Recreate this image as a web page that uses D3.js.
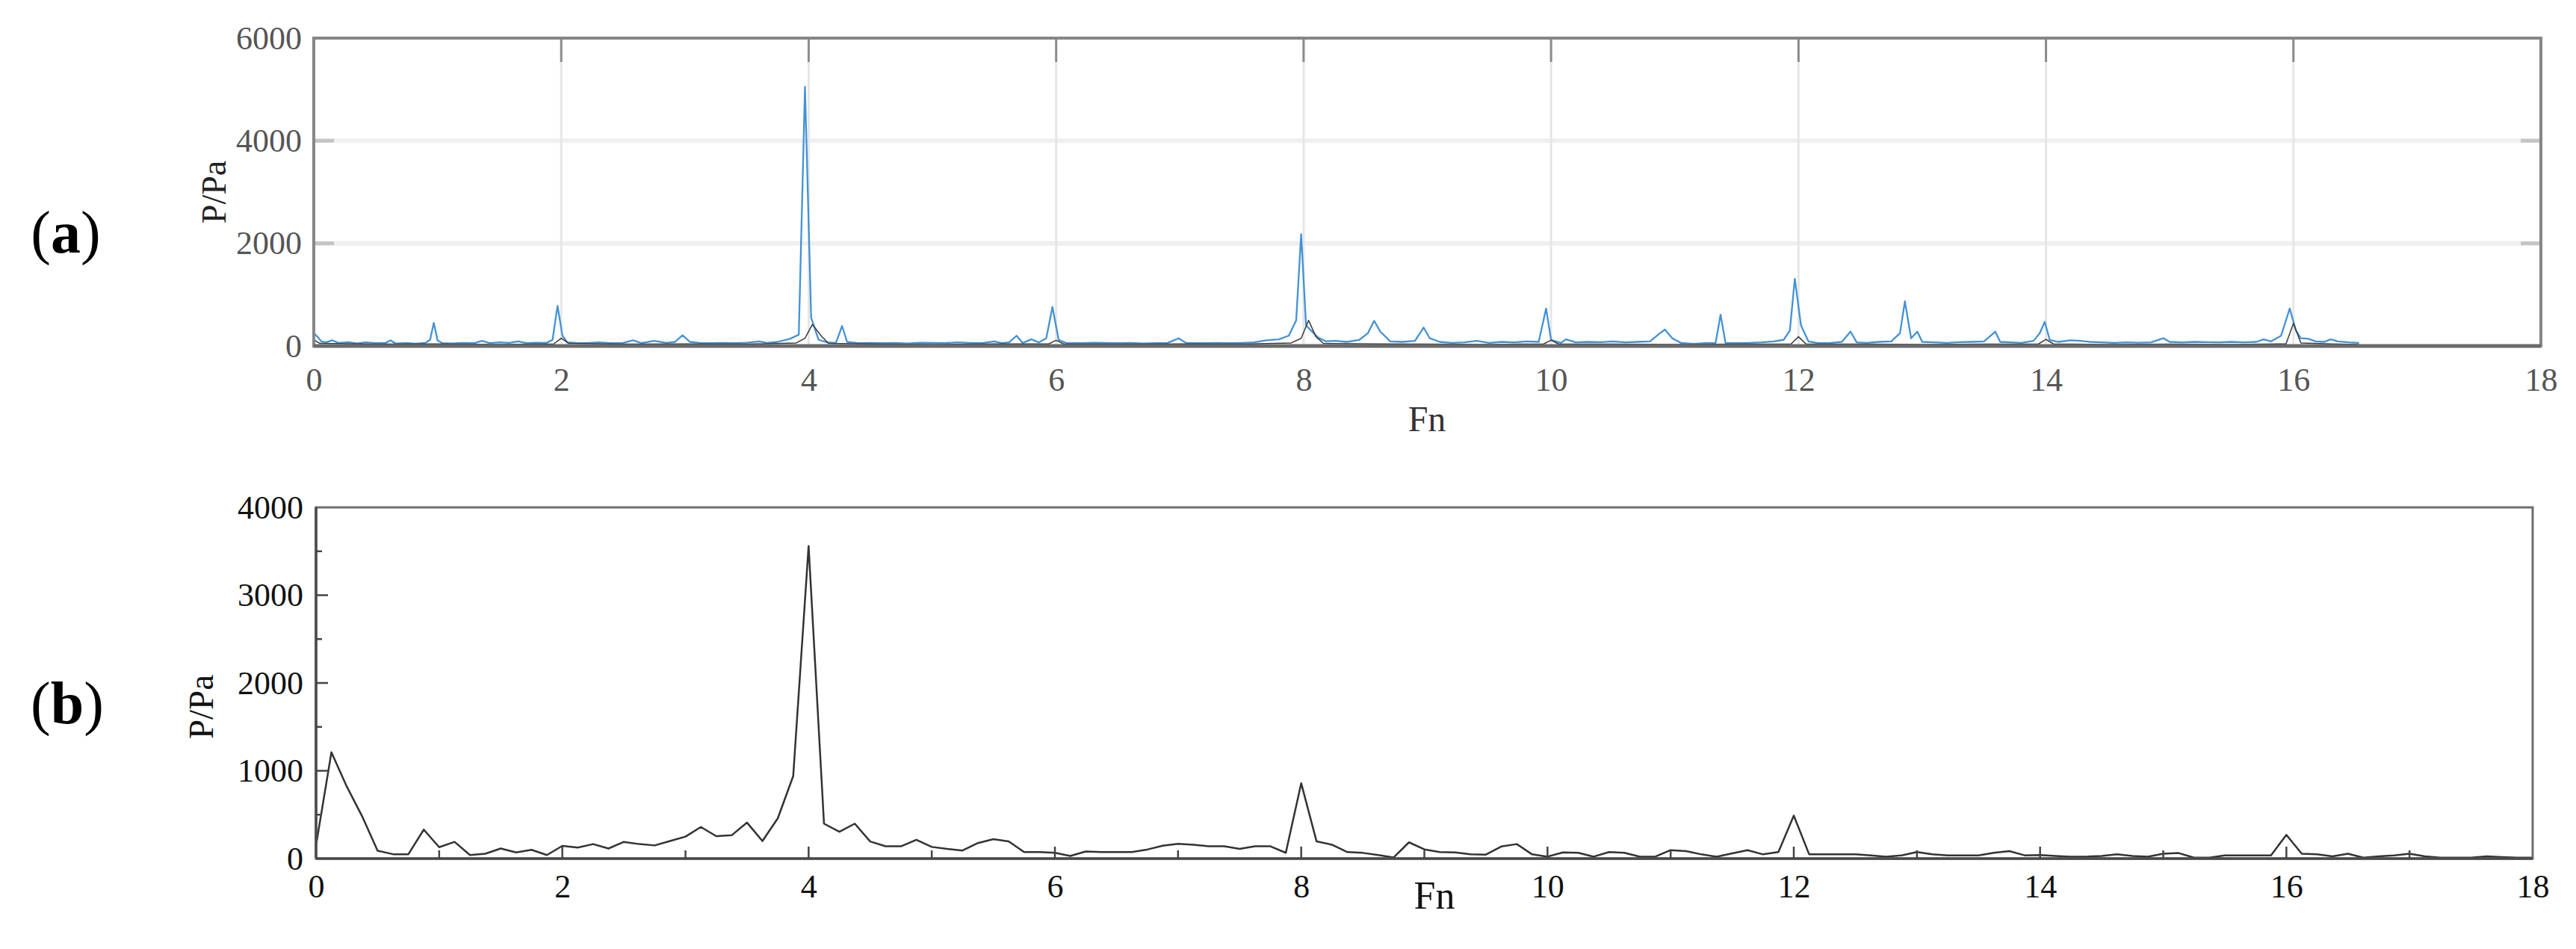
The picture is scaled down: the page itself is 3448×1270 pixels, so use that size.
<!DOCTYPE html>
<html><head><meta charset="utf-8">
<script src="https://cdn.jsdelivr.net/npm/d3@7"></script>
<style>html,body{margin:0;padding:0;background:#fff;} svg{display:block;}</style>
</head><body>
<svg id="chart" width="3448" height="1270"></svg>
<script>
// ---------- data ----------
const xTicks = [0, 2, 4, 6, 8, 10, 12, 14, 16, 18];
const xMinorB = [1, 3, 5, 7, 9, 11, 13, 15, 17];
const yTicksA = [0, 2000, 4000, 6000];
const yTicksB = [0, 1000, 2000, 3000, 4000];
const yMinorB = [500, 1500, 2500, 3500];

// panel (a): fine spectrum (blue) [Fn, P]
const blueA = [
[0.00,250],[0.03,180],[0.06,90],[0.10,70],[0.15,110],[0.20,60],[0.28,75],[0.35,50],[0.42,70],[0.50,55],
[0.58,60],[0.62,110],[0.66,50],[0.75,55],[0.82,45],[0.90,60],[0.94,120],[0.97,450],[1.00,110],[1.04,55],
[1.12,50],[1.20,60],[1.30,55],[1.36,100],[1.42,55],[1.50,70],[1.58,60],[1.65,90],[1.72,55],[1.80,65],
[1.88,60],[1.93,120],[1.97,780],[2.01,200],[2.05,70],[2.12,60],[2.20,55],[2.30,70],[2.40,55],[2.50,60],
[2.58,110],[2.65,55],[2.75,100],[2.85,60],[2.92,80],[2.98,210],[3.04,80],[3.12,60],[3.20,55],[3.30,60],
[3.40,55],[3.50,65],[3.60,90],[3.66,60],[3.75,80],[3.85,140],[3.92,220],[3.97,5050],[4.02,550],[4.08,120],
[4.15,70],[4.22,60],[4.27,390],[4.31,80],[4.40,55],[4.50,60],[4.60,55],[4.70,60],[4.80,50],[4.90,65],
[5.00,60],[5.10,55],[5.20,70],[5.30,60],[5.40,55],[5.50,90],[5.56,55],[5.62,70],[5.68,200],[5.73,60],
[5.80,130],[5.86,70],[5.92,150],[5.97,760],[6.02,120],[6.08,60],[6.20,55],[6.30,65],[6.40,60],[6.50,55],
[6.60,60],[6.70,50],[6.80,55],[6.90,60],[6.99,150],[7.05,60],[7.20,55],[7.30,60],[7.40,55],[7.50,60],
[7.60,70],[7.70,110],[7.80,130],[7.88,200],[7.94,500],[7.98,2180],[8.02,400],[8.06,300],[8.12,160],[8.18,90],
[8.25,100],[8.35,80],[8.45,120],[8.52,250],[8.57,490],[8.62,280],[8.70,90],[8.80,80],[8.90,100],[8.97,360],
[9.02,150],[9.10,80],[9.20,60],[9.30,70],[9.40,100],[9.50,60],[9.60,80],[9.70,70],[9.80,90],[9.90,80],
[9.96,730],[10.00,120],[10.08,60],[10.12,130],[10.20,70],[10.30,80],[10.40,75],[10.50,90],[10.60,70],[10.70,80],
[10.80,90],[10.88,250],[10.92,320],[10.98,150],[11.05,60],[11.15,40],[11.25,55],[11.33,60],[11.37,610],[11.41,60],
[11.50,55],[11.60,60],[11.70,70],[11.80,90],[11.88,120],[11.93,300],[11.97,1310],[12.02,400],[12.08,90],[12.15,60],
[12.25,55],[12.35,80],[12.42,280],[12.47,70],[12.55,60],[12.65,80],[12.75,90],[12.82,250],[12.86,870],[12.91,150],
[12.96,280],[13.00,80],[13.10,70],[13.20,60],[13.30,75],[13.40,80],[13.50,90],[13.59,280],[13.63,80],[13.72,70],
[13.80,60],[13.90,100],[13.95,250],[13.99,470],[14.03,120],[14.10,80],[14.20,110],[14.28,100],[14.35,80],[14.45,70],
[14.55,60],[14.65,70],[14.75,65],[14.85,70],[14.95,150],[15.00,80],[15.10,70],[15.20,80],[15.30,75],[15.40,70],
[15.50,80],[15.60,70],[15.70,80],[15.76,130],[15.82,90],[15.90,200],[15.97,730],[16.02,300],[16.06,150],[16.12,140],
[16.18,90],[16.25,80],[16.30,130],[16.36,90],[16.45,70],[16.53,60]
];

// panel (a): second spectrum (dark) [Fn, P]
const darkA = [
[0.00,120],[0.05,50],[0.50,35],[1.00,40],[1.50,30],[1.94,40],[2.00,150],[2.06,50],[2.50,35],[3.00,40],
[3.50,35],[3.90,60],[3.97,150],[4.03,420],[4.10,200],[4.16,50],[4.60,35],[5.00,30],[5.50,40],[5.94,40],
[6.00,110],[6.06,40],[6.50,35],[7.00,40],[7.50,35],[7.90,60],[7.98,150],[8.04,500],[8.10,180],[8.16,50],
[8.60,40],[9.00,35],[9.50,30],[9.94,40],[10.00,110],[10.06,40],[10.50,35],[11.00,30],[11.50,35],[11.94,40],
[12.00,180],[12.06,40],[12.50,35],[13.00,30],[13.50,35],[13.94,40],[14.00,130],[14.06,40],[14.50,30],[15.00,35],
[15.50,30],[15.94,40],[16.00,440],[16.06,60],[16.30,40],[16.53,30]
];

// panel (b): coarse spectrum [Fn, P]
const lineB = [
[0,150],[0.125,1210],[0.25,820],[0.375,480],[0.5,90],[0.625,50],[0.75,50],[0.875,330],[1,130],[1.125,190],
[1.25,40],[1.375,55],[1.5,115],[1.625,70],[1.75,100],[1.875,40],[2,145],[2.125,125],[2.25,165],[2.375,115],
[2.5,190],[2.625,165],[2.75,150],[2.875,200],[3,250],[3.125,360],[3.25,255],[3.375,265],[3.5,410],[3.625,200],
[3.75,460],[3.875,940],[4,3560],[4.125,398],[4.25,306],[4.375,398],[4.5,195],[4.625,140],[4.75,140],[4.875,214],
[5,133],[5.125,110],[5.25,92],[5.375,177],[5.5,221],[5.625,195],[5.75,74],[5.875,74],[6,66],[6.125,30],
[6.25,81],[6.375,74],[6.5,74],[6.625,74],[6.75,103],[6.875,147],[7,169],[7.125,158],[7.25,140],[7.375,140],
[7.5,110],[7.625,140],[7.75,140],[7.875,66],[8,858],[8.125,195],[8.25,158],[8.375,74],[8.5,65],[8.625,40],
[8.75,12],[8.875,185],[9,105],[9.125,74],[9.25,70],[9.375,48],[9.5,45],[9.625,138],[9.75,165],[9.875,48],
[10,22],[10.125,70],[10.25,66],[10.375,22],[10.5,74],[10.625,66],[10.75,22],[10.875,22],[11,96],[11.125,85],
[11.25,48],[11.375,22],[11.5,59],[11.625,96],[11.75,48],[11.875,74],[12,490],[12.125,48],[12.25,48],[12.375,48],
[12.5,48],[12.625,37],[12.75,22],[12.875,37],[13,74],[13.125,48],[13.25,37],[13.375,37],[13.5,37],[13.625,66],
[13.75,85],[13.875,37],[14,40],[14.125,30],[14.25,22],[14.375,22],[14.5,30],[14.625,48],[14.75,30],[14.875,22],
[15,55],[15.125,63],[15.25,11],[15.375,11],[15.5,37],[15.625,37],[15.75,37],[15.875,37],[16,270],[16.125,55],
[16.25,48],[16.375,26],[16.5,55],[16.625,11],[16.75,26],[16.875,37],[17,55],[17.125,26],[17.25,11],[17.375,11],
[17.5,11],[17.625,26],[17.75,18],[17.875,11],[18,11]
];

// ---------- drawing ----------
const svg = d3.select("#chart");
const FONT = "'Liberation Serif','Times New Roman',serif";

// Panel A scales
const xA = d3.scaleLinear().domain([0, 18]).range([420, 3401]);
const yA = d3.scaleLinear().domain([0, 6000]).range([463, 51]);
// Panel B scales
const xB = d3.scaleLinear().domain([0, 18]).range([423, 3390]);
const yB = d3.scaleLinear().domain([0, 4000]).range([1149, 679]);

// ===== Panel A =====
const gA = svg.append("g");
gA.selectAll("line.hgrid").data([2000, 4000]).enter().append("line")
  .attr("x1", xA(0)).attr("x2", xA(18)).attr("y1", d => yA(d)).attr("y2", d => yA(d))
  .attr("stroke", "#efefef").attr("stroke-width", 6);
gA.selectAll("line.vgrid").data(xTicks.slice(1, -1)).enter().append("line")
  .attr("x1", d => xA(d)).attr("x2", d => xA(d)).attr("y1", yA(6000)).attr("y2", yA(0))
  .attr("stroke", "#e6e6e6").attr("stroke-width", 3);
gA.selectAll("line.ttick").data(xTicks.slice(1, -1)).enter().append("line")
  .attr("x1", d => xA(d)).attr("x2", d => xA(d)).attr("y1", yA(6000)).attr("y2", yA(6000) + 32)
  .attr("stroke", "#8c8c8c").attr("stroke-width", 3);
[[0, 1], [18, -1]].forEach(([xv, dir]) => {
  gA.selectAll(null).data([2000, 4000]).enter().append("line")
    .attr("x1", xA(xv)).attr("x2", xA(xv) + dir * 27).attr("y1", d => yA(d)).attr("y2", d => yA(d))
    .attr("stroke", "#c4c4c4").attr("stroke-width", 5);
});
const lineGenA = d3.line().x(d => xA(d[0])).y(d => yA(d[1]));
gA.append("path").datum(blueA).attr("d", lineGenA)
  .attr("fill", "none").attr("stroke", "#4392d6").attr("stroke-width", 2.3).attr("stroke-linejoin", "round");
gA.append("path").datum(darkA).attr("d", lineGenA)
  .attr("fill", "none").attr("stroke", "#3a3a3a").attr("stroke-width", 1.5).attr("stroke-linejoin", "round");
gA.append("rect").attr("x", xA(0)).attr("y", yA(6000)).attr("width", xA(18) - xA(0)).attr("height", yA(0) - yA(6000))
  .attr("fill", "none").attr("stroke", "#868686").attr("stroke-width", 4);
gA.append("line").attr("x1", xA(0)).attr("x2", xA(18)).attr("y1", yA(0)).attr("y2", yA(0))
  .attr("stroke", "#6a6a6a").attr("stroke-width", 5);
const axYA = gA.append("g").attr("transform", `translate(${xA(0)},0)`)
  .call(d3.axisLeft(yA).tickValues(yTicksA).tickFormat(d3.format("d")).tickSize(0).tickPadding(16));
const axXA = gA.append("g").attr("transform", `translate(0,${yA(0)})`)
  .call(d3.axisBottom(xA).tickValues(xTicks).tickFormat(d3.format("d")).tickSize(0).tickPadding(0));
[axYA, axXA].forEach(a => {
  a.select(".domain").remove();
  a.selectAll("text").attr("font-family", FONT).attr("font-size", 44).attr("fill", "#555");
});
axXA.selectAll("text").attr("y", 45).attr("dy", "0.35em");
gA.append("text").attr("x", 1910).attr("y", 560).attr("dy", "0.35em").attr("text-anchor", "middle")
  .attr("font-family", FONT).attr("font-size", 48).attr("fill", "#333").text("Fn");
gA.append("text").attr("transform", "translate(286,257) rotate(-90)").attr("dy", "0.35em").attr("text-anchor", "middle")
  .attr("font-family", FONT).attr("font-size", 46).attr("fill", "#222").text("P/Pa");

// ===== Panel B =====
const gB = svg.append("g");
const lineGenB = d3.line().x(d => xB(d[0])).y(d => yB(d[1]));
gB.append("path").datum(lineB).attr("d", lineGenB)
  .attr("fill", "none").attr("stroke", "#333").attr("stroke-width", 2.5).attr("stroke-linejoin", "round");
gB.append("rect").attr("x", xB(0)).attr("y", yB(4000)).attr("width", xB(18) - xB(0)).attr("height", yB(0) - yB(4000))
  .attr("fill", "none").attr("stroke", "#6e6e6e").attr("stroke-width", 3);
gB.append("line").attr("x1", xB(0)).attr("x2", xB(18)).attr("y1", yB(0)).attr("y2", yB(0))
  .attr("stroke", "#4a4a4a").attr("stroke-width", 3.5);
gB.append("line").attr("x1", xB(0)).attr("x2", xB(0)).attr("y1", yB(0)).attr("y2", yB(4000))
  .attr("stroke", "#4a4a4a").attr("stroke-width", 3.5);
gB.selectAll(null).data(yTicksB.slice(1, -1)).enter().append("line")
  .attr("x1", xB(0)).attr("x2", xB(0) + 16).attr("y1", d => yB(d)).attr("y2", d => yB(d))
  .attr("stroke", "#444").attr("stroke-width", 2.5);
gB.selectAll(null).data(yMinorB).enter().append("line")
  .attr("x1", xB(0)).attr("x2", xB(0) + 8).attr("y1", d => yB(d)).attr("y2", d => yB(d))
  .attr("stroke", "#444").attr("stroke-width", 2.5);
gB.selectAll(null).data(xTicks.slice(1, -1)).enter().append("line")
  .attr("x1", d => xB(d)).attr("x2", d => xB(d)).attr("y1", yB(0)).attr("y2", yB(0) - 16)
  .attr("stroke", "#444").attr("stroke-width", 2.5);
gB.selectAll(null).data(xMinorB).enter().append("line")
  .attr("x1", d => xB(d)).attr("x2", d => xB(d)).attr("y1", yB(0)).attr("y2", yB(0) - 11)
  .attr("stroke", "#444").attr("stroke-width", 2.5);
const axYB = gB.append("g").attr("transform", `translate(${xB(0)},0)`)
  .call(d3.axisLeft(yB).tickValues(yTicksB).tickFormat(d3.format("d")).tickSize(0).tickPadding(17));
const axXB = gB.append("g").attr("transform", `translate(0,${yB(0)})`)
  .call(d3.axisBottom(xB).tickValues(xTicks).tickFormat(d3.format("d")).tickSize(0).tickPadding(0));
[axYB, axXB].forEach(a => {
  a.select(".domain").remove();
  a.selectAll("text").attr("font-family", FONT).attr("font-size", 44).attr("fill", "#111");
});
axXB.selectAll("text").attr("y", 37).attr("dy", "0.35em");
gB.append("text").attr("x", 1920).attr("y", 1198).attr("dy", "0.35em").attr("text-anchor", "middle")
  .attr("font-family", FONT).attr("font-size", 52).attr("fill", "#111").text("Fn");
gB.append("text").attr("transform", "translate(269,946) rotate(-90)").attr("dy", "0.35em").attr("text-anchor", "middle")
  .attr("font-family", FONT).attr("font-size", 47).attr("fill", "#111").text("P/Pa");

[["a", 88, 312], ["b", 90, 942]].forEach(([ch, x, y]) => {
  const t = svg.append("text").attr("x", x).attr("y", y).attr("dy", "0.33em").attr("text-anchor", "middle")
    .attr("font-family", FONT).attr("font-size", 80).attr("fill", "#000");
  t.append("tspan").text("(");
  t.append("tspan").attr("font-weight", "bold").text(ch);
  t.append("tspan").text(")");
});
</script>
</body></html>
